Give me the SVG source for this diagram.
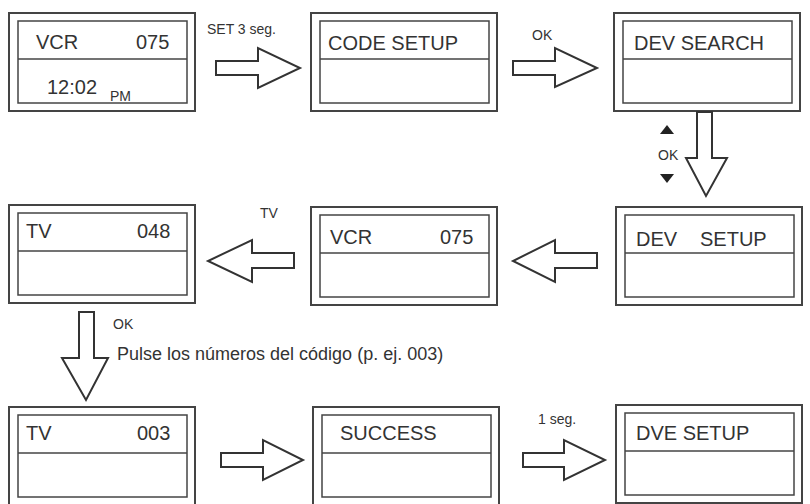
<svg xmlns="http://www.w3.org/2000/svg" width="810" height="504" viewBox="0 0 810 504">
<style>
.o{fill:#fff;stroke:#444;stroke-width:2}
.i{fill:none;stroke:#444;stroke-width:1.5}
.a{fill:#fff;stroke:#333;stroke-width:2;stroke-linejoin:miter}
text{font-family:"Liberation Sans",Arial,sans-serif;fill:#333}
.t{font-size:20px}
.s{font-size:14px}
</style>
<defs>
<g id="scr"><rect class="o" x="0" y="0" width="186" height="98"/><rect class="i" x="9" y="8" width="169" height="82"/><line class="i" x1="9" y1="46" x2="178" y2="46"/></g>
</defs>
<g id="n1"><use href="#scr" x="9" y="13"/><text class="t" x="36" y="49">VCR</text><text class="t" x="136" y="49">075</text><text class="t" x="47" y="94">12:02</text><text class="s" x="110" y="101">PM</text></g>
<g id="n2"><use href="#scr" x="311" y="13"/><text class="t" x="328" y="50">CODE SETUP</text></g>
<g id="n3"><use href="#scr" x="614" y="13"/><text class="t" x="634" y="50">DEV SEARCH</text></g>
<g id="n4"><use href="#scr" x="616" y="207"/><text class="t" x="636" y="246">DEV</text><text class="t" x="700" y="246">SETUP</text></g>
<g id="n5"><use href="#scr" x="311" y="207"/><text class="t" x="330" y="244">VCR</text><text class="t" x="440" y="244">075</text></g>
<g id="n6"><use href="#scr" x="9" y="205"/><text class="t" x="26" y="238">TV</text><text class="t" x="137" y="238">048</text></g>
<g id="n7"><use href="#scr" x="9" y="407"/><text class="t" x="26" y="440">TV</text><text class="t" x="137" y="440">003</text></g>
<g id="n8"><use href="#scr" x="313" y="407"/><text class="t" x="340" y="440">SUCCESS</text></g>
<g id="n9"><use href="#scr" x="616" y="405"/><text class="t" x="636" y="440">DVE SETUP</text></g>
<g id="connectors">
<path class="a" d="M216,61 H258 V48 L300,68 L258,88 V75 H216 Z"/>
<path class="a" d="M513,61 H555 V48 L597,68 L555,87 V75 H513 Z"/>
<path class="a" d="M697,112 V158 H686 L706,196 L727,158 H712 V112 Z"/>
<path class="a" d="M597,253 H555 V240 L513,261 L555,282 V268 H597 Z"/>
<path class="a" d="M294,253 H252 V240 L208,261 L252,282 V268 H294 Z"/>
<path class="a" d="M79,312 V358 H62 L86,400 L108,358 H94 V312 Z"/>
<path class="a" d="M221,453 H263 V440 L303,460 L263,480 V467 H221 Z"/>
<path class="a" d="M523,453 H564 V440 L605,460 L564,480 V467 H523 Z"/>
<path fill="#222" d="M660,134 L667,125 L674,134 Z"/>
<path fill="#222" d="M660,174 L667,183 L674,174 Z"/>
</g>
<text class="s" x="207" y="34">SET 3 seg.</text>
<text class="s" x="532" y="40" font-size="12">OK</text>
<text class="s" x="658" y="160" font-size="12">OK</text>
<text class="s" x="260" y="218" font-size="12">TV</text>
<text class="s" x="113" y="329" font-size="12">OK</text>
<text x="117" y="360" font-size="18">Pulse los números del código (p. ej. 003)</text>
<text class="s" x="538" y="424">1 seg.</text>
</svg>
